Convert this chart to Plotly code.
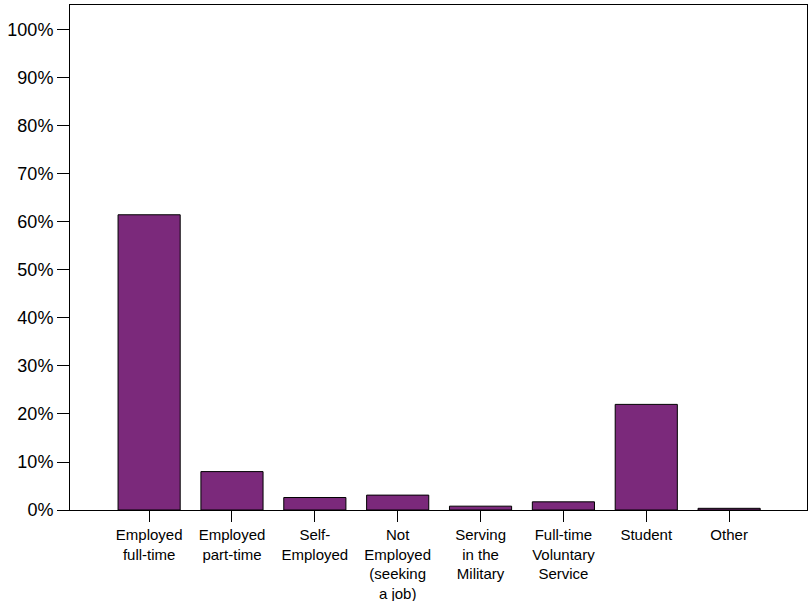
import plotly.graph_objects as go

categories = ["Employed full-time", "Employed part-time", "Self-Employed",
              "Not Employed (seeking a job)", "Serving in the Military",
              "Full-time Voluntary Service", "Student", "Other"]
tick_labels = ["Employed<br>full-time", "Employed<br>part-time", "Self-<br>Employed",
               "Not<br>Employed<br>(seeking<br>a job)", "Serving<br>in the<br>Military",
               "Full-time<br>Voluntary<br>Service", "Student", "Other"]
percent = [61.5, 8.0, 2.6, 3.1, 0.8, 1.7, 22.0, 0.35]
y_ticks = list(range(0, 101, 10))
y_tick_text = [f"{v}%" for v in y_ticks]

FONT = "Liberation Sans, Arial, sans-serif"
BAR = "rgb(123,41,123)"

fig = go.Figure()
fig.add_trace(go.Bar(
    x=list(range(len(categories))), y=percent, width=0.75,
    marker=dict(color=BAR, line=dict(color="black", width=1)),
    hovertext=categories,
))

fig.update_layout(
    width=812, height=601,
    margin=dict(l=70, r=5, t=5, b=91),
    plot_bgcolor="white", paper_bgcolor="white",
    showlegend=False,
    bargap=0.25,
    font=dict(family=FONT, color="black"),
)
fig.update_xaxes(
    range=[-0.955, 7.94], tickmode="array", tickvals=list(range(len(categories))),
    ticktext=tick_labels, ticks="outside", ticklen=11, tickcolor="black",
    tickfont=dict(family=FONT, size=15, color="black"), tickangle=0,
    showline=True, linecolor="black", linewidth=1, mirror=True,
    showgrid=False, zeroline=False, fixedrange=True, automargin=False,
)
fig.update_yaxes(
    range=[0, 105.2], tickmode="array", tickvals=y_ticks, ticktext=y_tick_text,
    ticks="outside", ticklen=12, tickcolor="black",
    tickfont=dict(family=FONT, size=18, color="black"),
    showline=True, linecolor="black", linewidth=1, mirror=True,
    showgrid=False, zeroline=False, automargin=False,
)

fig.write_html(
    "out.html",
    config={"displayModeBar": False},
    post_script="document.body.style.margin='0';document.body.style.overflow='hidden';",
)
